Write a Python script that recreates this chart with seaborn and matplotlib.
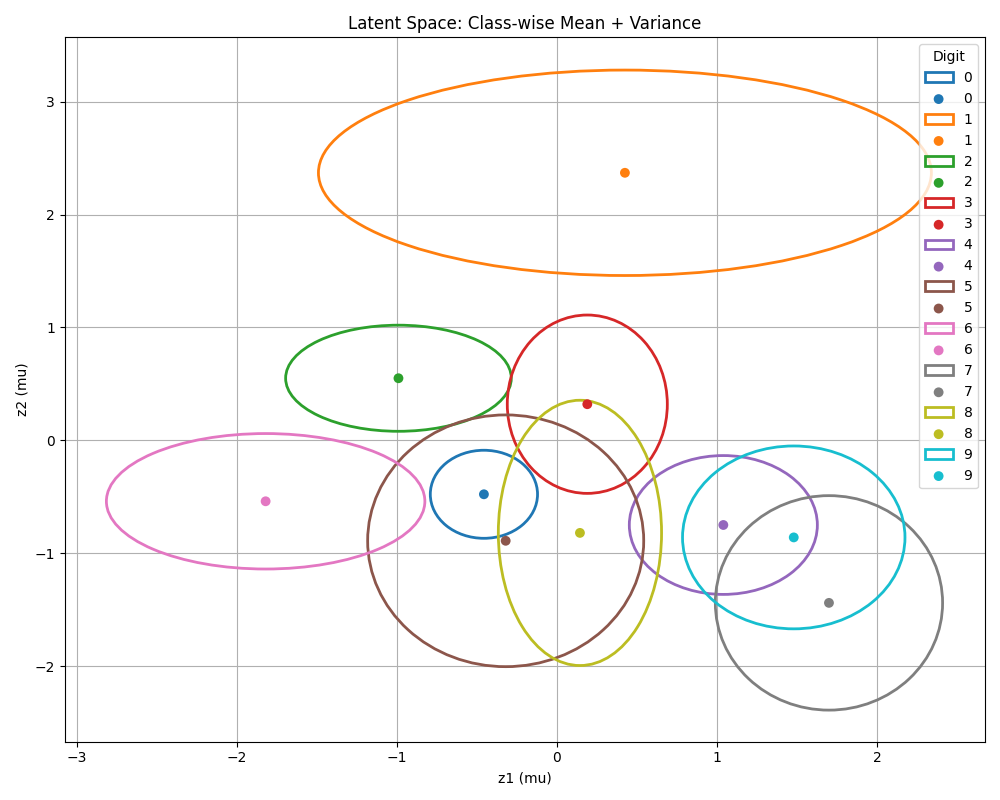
import numpy as np
import matplotlib
matplotlib.use("Agg")
import matplotlib.pyplot as plt
import seaborn as sns
from matplotlib.patches import Ellipse

digits = [0, 1, 2, 3, 4, 5, 6, 7, 8, 9]
mean_z1 = [-0.456, 0.425, -0.99, 0.19, 1.04, -0.32, -1.82, 1.70, 0.144, 1.48]
mean_z2 = [-0.478, 2.37, 0.55, 0.32, -0.75, -0.89, -0.54, -1.44, -0.82, -0.86]
width_z1 = [0.67, 3.83, 1.41, 1.00, 1.175, 1.725, 1.99, 1.42, 1.02, 1.39]
height_z2 = [0.78, 1.82, 0.94, 1.58, 1.23, 2.23, 1.20, 1.90, 2.35, 1.62]

colors = sns.color_palette("tab10", 10)

fig, ax = plt.subplots(figsize=(10, 8), dpi=100)
for i, d in enumerate(digits):
    ell = Ellipse((mean_z1[i], mean_z2[i]), width_z1[i], height_z2[i],
                  fill=False, edgecolor=colors[i], linewidth=2, label=str(d))
    ax.add_patch(ell)
    sns.scatterplot(x=[mean_z1[i]], y=[mean_z2[i]], color=colors[i], s=50,
                    edgecolor="none", label=str(d), ax=ax, zorder=3)

ax.set_xlim(-3.075, 2.675)
ax.set_ylim(-2.67, 3.57)
ax.grid(True)
ax.set_axisbelow(True)
ax.set_title("Latent Space: Class-wise Mean + Variance")
ax.set_xlabel("z1 (mu)")
ax.set_ylabel("z2 (mu)")
ax.legend(title="Digit", loc="upper right")
plt.tight_layout()
plt.savefig("out.png")
